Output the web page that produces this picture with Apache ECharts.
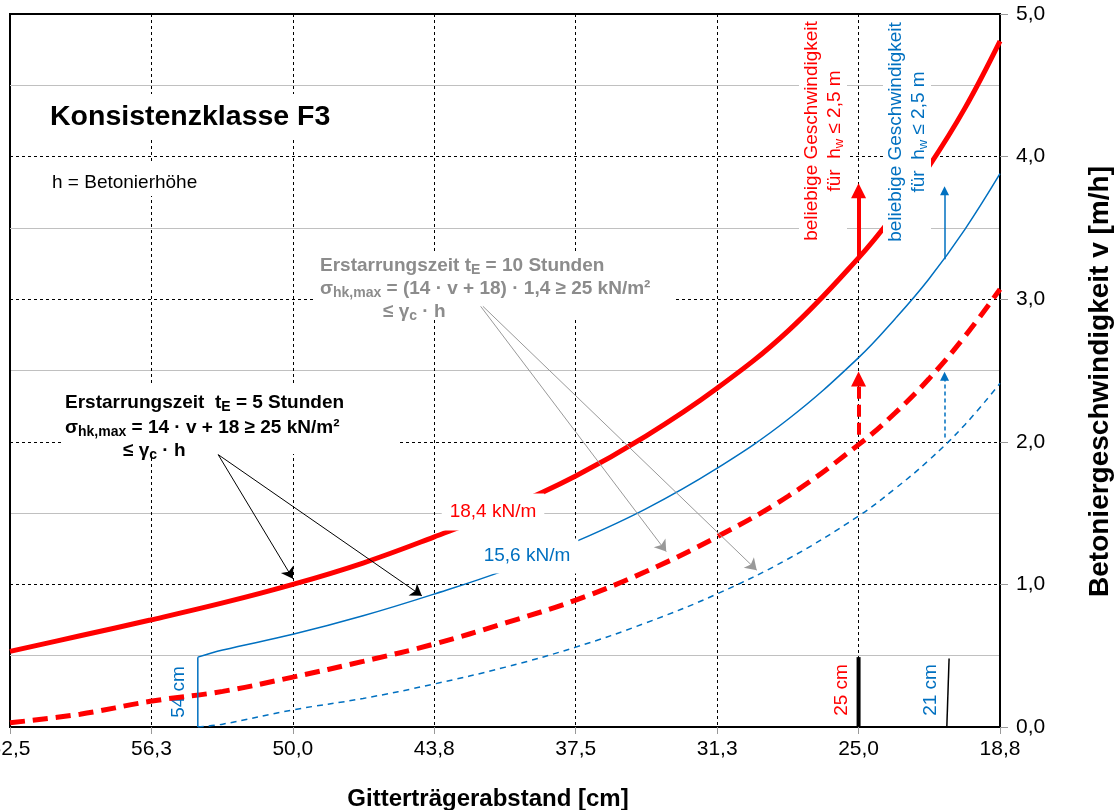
<!DOCTYPE html>
<html lang="de">
<head>
<meta charset="utf-8">
<title>Konsistenzklasse F3</title>
<script src="https://cdn.jsdelivr.net/npm/echarts@6.0.0/dist/echarts.min.js"></script>
<style>
    html, body { margin: 0; padding: 0; background: #fff; }
    #chart { width: 1117px; height: 810px; }
</style>
</head>
<body>
<div id="chart"></div>
<script>
// Gitterträgerabstand [cm] -> Betoniergeschwindigkeit v [m/h]
const redSpacing = [62.5, 59.4, 56.3, 53.1, 50.0, 46.9, 43.8, 40.6, 37.5, 34.4, 31.3, 28.1, 25.0, 23.4, 21.9, 20.3, 18.75];
const red5h = [0.53, 0.64, 0.75, 0.87, 1.00, 1.15, 1.33, 1.53, 1.76, 2.04, 2.37, 2.78, 3.29, 3.60, 3.93, 4.34, 4.81];
const red10h = [0.03, 0.09, 0.18, 0.25, 0.35, 0.46, 0.58, 0.73, 0.89, 1.09, 1.33, 1.62, 1.98, 2.20, 2.44, 2.74, 3.07];

const blueSpacing = [54.2, 53.1, 50.0, 46.9, 43.8, 40.6, 37.5, 34.4, 31.3, 28.1, 25.0, 23.4, 21.9, 20.3, 18.75];
const blue5h = [0.49, 0.54, 0.65, 0.78, 0.93, 1.10, 1.30, 1.53, 1.81, 2.16, 2.59, 2.86, 3.14, 3.49, 3.88];
const blue10h = [0.00, 0.02, 0.12, 0.20, 0.30, 0.42, 0.56, 0.73, 0.93, 1.18, 1.48, 1.67, 1.87, 2.12, 2.41];

// Grenzabstände (senkrechte Striche unten)
const limit54 = [[54.2, 0], [54.2, 0.49]];
const limit25 = [[25.0, 0], [25.0, 0.49]];
const limit21 = [[21.1, 0], [21.0, 0.48]];

// Pfeile "beliebige Geschwindigkeit"
const arrowRed = [[25.0, 3.30], [25.0, 3.76]];
const arrowRedDashed = [[25.0, 2.05], [25.0, 2.44]];
const arrowBlue = [[21.2, 3.28], [21.2, 3.76]];
const arrowBlueDashed = [[21.2, 2.03], [21.2, 2.46]];

// Hinweispfeile von den Textblöcken
const pointerBlack = [[[53.3, 1.91], [50.0, 1.04]], [[53.3, 1.91], [44.3, 0.92]]];
const pointerGray = [[[41.7, 2.95], [33.5, 1.23]], [[41.6, 2.95], [29.5, 1.10]]];

const xTicks = { min: 18.75, max: 62.5, step: 6.25 };
const yTicks = { min: 0, max: 5, step: 1 };

const FONT = '"Liberation Sans", Arial, sans-serif';
const RED = '#ff0000';
const BLUE = '#0070c0';
const GRAY = '#8c8c8c';

function pairs(xs, ys) {
    return xs.map((x, i) => [x, ys[i]]);
}

function fmt(v) {
    return v.toFixed(1).replace('.', ',');
}

function curve(name, xs, ys, color, width, type) {
    return {
        name: name,
        type: 'line',
        data: pairs(xs, ys),
        smooth: 0.4,
        symbol: 'none',
        lineStyle: { color: color, width: width, type: type || 'solid' },
        emphasis: { disabled: true },
        z: 3
    };
}

function segment(name, points, color, width) {
    return {
        name: name,
        type: 'line',
        data: points,
        symbol: 'none',
        lineStyle: { color: color, width: width },
        emphasis: { disabled: true },
        z: 3
    };
}

function arrowLines(name, lines, color, width, type, symbol, size) {
    return {
        name: name,
        type: 'line',
        data: [],
        markLine: {
            silent: true,
            symbol: ['none', symbol],
            symbolSize: size,
            label: { show: false },
            emphasis: { disabled: true },
            lineStyle: { color: color, width: width, type: type, opacity: 1 },
            data: lines.map(l => [{ coord: l[0] }, { coord: l[1] }])
        }
    };
}

function text(x, y, str, opts) {
    return Object.assign({
        type: 'text',
        x: x,
        y: y,
        z: 1,
        style: Object.assign({
            text: str,
            fill: '#000',
            fontFamily: FONT,
            fontSize: 18,
            align: 'left',
            verticalAlign: 'middle',
            textAlign: 'left',
            textVerticalAlign: 'middle'
        }, opts.style || {})
    }, opts.el || {});
}

function whiteBox(x, y, w, h, z) {
    return { type: 'rect', z: z || 1, shape: { x: x, y: y, width: w, height: h }, style: { fill: '#fff' } };
}

const subRich = function (color) {
    return {
        s: { fontSize: 14, fontWeight: 'bold', fontFamily: FONT, fill: color, verticalAlign: 'bottom', lineHeight: 15 },
        n: { fontSize: 19, fontWeight: 'bold', fontFamily: FONT, fill: color, lineHeight: 22 }
    };
};

const verticalRich = function (color) {
    return {
        n: { fontSize: 19, fontFamily: FONT, fill: color, lineHeight: 23 },
        s: { fontSize: 13, fontFamily: FONT, fill: color, verticalAlign: 'bottom', lineHeight: 16 }
    };
};

const graphics = [
    // Titel
    whiteBox(40, 94, 305, 45),
    text(50, 117, 'Konsistenzklasse F3', { style: { fontSize: 28.5, fontWeight: 'bold' } }),
    whiteBox(45, 162, 170, 34),
    text(52, 183, 'h = Betonierhöhe', { style: { fontSize: 19 } }),

    // Block t_E = 5 h
    whiteBox(62, 384, 336, 70),
    text(65, 403, '{n|Erstarrungszeit  t}{s|E}{n| = 5 Stunden}', { style: { rich: subRich('#000') } }),
    text(65, 428, '{n|σ}{s|hk,max}{n| = 14 · v + 18 ≥ 25 kN/m²}', { style: { rich: subRich('#000') } }),
    text(123, 451, '{n|≤ γ}{s|c}{n| · h}', { style: { rich: subRich('#000') } }),

    // Block t_E = 10 h
    whiteBox(316, 254, 360, 66),
    text(320, 266, '{n|Erstarrungszeit t}{s|E}{n| = 10 Stunden}', { style: { rich: subRich(GRAY) } }),
    text(320, 289, '{n|σ}{s|hk,max}{n| = (14 · v + 18) · 1,4 ≥ 25 kN/m²}', { style: { rich: subRich(GRAY) } }),
    text(383, 312, '{n|≤ γ}{s|c}{n| · h}', { style: { rich: subRich(GRAY) } }),

    // Lastbeschriftungen
    text(493, 512, '18,4 kN/m', {
        el: { z: 10 },
        style: { fill: RED, fontSize: 19, align: 'center', textAlign: 'center', backgroundColor: '#fff', padding: [9, 8] }
    }),
    text(527, 556, '15,6 kN/m', {
        el: { z: 10 },
        style: { fill: BLUE, fontSize: 19, align: 'center', textAlign: 'center', backgroundColor: '#fff', padding: [8, 8] }
    }),

    // beliebige Geschwindigkeit
    text(823, 131, '{n|beliebige Geschwindigkeit}\n{n|für  h}{s|w}{n| ≤ 2,5 m}', {
        el: { z: 10, rotation: Math.PI / 2 },
        style: { rich: verticalRich(RED), align: 'center', textAlign: 'center', backgroundColor: '#fff', padding: [1, 4] }
    }),
    text(907, 132, '{n|beliebige Geschwindigkeit}\n{n|für  h}{s|w}{n| ≤ 2,5 m}', {
        el: { z: 10, rotation: Math.PI / 2 },
        style: { rich: verticalRich(BLUE), align: 'center', textAlign: 'center', backgroundColor: '#fff', padding: [1, 4] }
    }),

    // Abstandsmarken
    text(179, 692, '54 cm', { el: { rotation: Math.PI / 2 }, style: { fill: BLUE, fontSize: 19, align: 'center', textAlign: 'center' } }),
    text(842, 690, '25 cm', { el: { rotation: Math.PI / 2 }, style: { fill: RED, fontSize: 19, align: 'center', textAlign: 'center' } }),
    text(931, 690, '21 cm', { el: { rotation: Math.PI / 2 }, style: { fill: BLUE, fontSize: 19, align: 'center', textAlign: 'center' } })
];

const chart = echarts.init(document.getElementById('chart'), null, { renderer: 'canvas' });

const option = {
    animation: false,
    backgroundColor: '#fff',
    textStyle: { fontFamily: FONT },
    grid: {
        left: 10,
        right: 117,
        top: 14,
        bottom: 83,
        show: true,
        borderColor: '#000',
        borderWidth: 2,
        containLabel: false,
        outerBoundsMode: 'none'
    },
    xAxis: {
        type: 'value',
        inverse: true,
        min: xTicks.min,
        max: xTicks.max,
        interval: xTicks.step,
        name: 'Gitterträgerabstand [cm]',
        nameLocation: 'middle',
        nameGap: 60,
        nameTextStyle: { fontSize: 24, fontWeight: 'bold', color: '#000', fontFamily: FONT, padding: [0, 34, 0, 0] },
        axisLine: { show: true, onZero: false, lineStyle: { color: '#000', width: 2 } },
        axisTick: { show: true, length: 7, lineStyle: { color: '#999' } },
        axisLabel: { fontSize: 21, color: '#000', margin: 12, fontFamily: FONT, formatter: fmt },
        splitLine: { show: true, lineStyle: { color: '#000', width: 1, type: [3, 3] } }
    },
    yAxis: {
        type: 'value',
        position: 'right',
        min: yTicks.min,
        max: yTicks.max,
        interval: yTicks.step,
        name: 'Betoniergeschwindigkeit v [m/h]',
        nameLocation: 'middle',
        nameRotate: 90,
        nameGap: 86,
        nameTextStyle: { fontSize: 28, fontWeight: 'bold', color: '#000', fontFamily: FONT, padding: [0, 22, 0, 0] },
        axisLine: { show: true, lineStyle: { color: '#000', width: 2 } },
        axisTick: { show: true, length: 8, lineStyle: { color: '#999' } },
        axisLabel: { fontSize: 21, color: '#000', margin: 16, fontFamily: FONT, formatter: fmt },
        splitLine: { show: true, lineStyle: { color: '#000', width: 1, type: [3, 3] } },
        minorTick: { show: false, splitNumber: 2 },
        minorSplitLine: { show: true, lineStyle: { color: '#c0c0c0', width: 1 } }
    },
    graphic: { elements: graphics },
    series: [
        curve('18,4 kN/m, t_E = 5 h', redSpacing, red5h, RED, 5),
        curve('18,4 kN/m, t_E = 10 h', redSpacing, red10h, RED, 5, [15, 8]),
        curve('15,6 kN/m, t_E = 5 h', blueSpacing, blue5h, BLUE, 1.5),
        curve('15,6 kN/m, t_E = 10 h', blueSpacing, blue10h, BLUE, 1.5, [6, 5]),
        segment('54 cm', limit54, BLUE, 1.5),
        segment('25 cm', limit25, '#000', 4),
        segment('21 cm', limit21, '#000', 1.5),
        arrowLines('Pfeil rot', [arrowRed], RED, 4, 'solid', 'triangle', 15),
        arrowLines('Pfeil rot gestrichelt', [arrowRedDashed], RED, 4, [12, 6], 'triangle', 15),
        arrowLines('Pfeil blau', [arrowBlue], BLUE, 1.5, 'solid', 'triangle', 9),
        arrowLines('Pfeil blau gestrichelt', [arrowBlueDashed], BLUE, 1.5, [4, 3], 'triangle', 9),
        arrowLines('Hinweis schwarz', pointerBlack, '#000', 1, 'solid', 'arrow', 11),
        arrowLines('Hinweis grau', pointerGray, '#999', 1, 'solid', 'arrow', 11)
    ]
};

chart.setOption(option);
</script>
</body>
</html>
